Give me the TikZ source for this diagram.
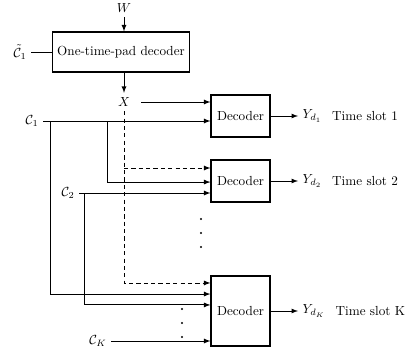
\documentclass[tikz,border=0pt]{standalone}
\usepackage{amsmath}
\usetikzlibrary{arrows,positioning}

\begin{document}
\begin{tikzpicture}[x=0.76pt,y=-0.76pt]
                \useasboundingbox (0,0) rectangle (411,351);
                \tikzset{blk/.style={draw, rectangle, line width=0.9pt, align=center},
                         wire/.style={line width=0.7pt},
                         dwire/.style={line width=0.7pt, dash pattern=on 3.2pt off 2.4pt}}

                \node[blk, minimum width=98.8pt, minimum height=30.4pt] (otp) at (121,52) {One-time-pad decoder};
                \node (W) at (124,8) {$W$};
                \node (Ct) at (20,52) {$\tilde{\mathcal{C}}_1$};
                \node (X) at (124,102) {$X$};

                \node[blk, minimum width=44.8pt, minimum height=31.9pt] (dec1) at (240.5,116) {Decoder};
                \node[blk, minimum width=44.8pt, minimum height=31.9pt] (dec2) at (240.5,181) {Decoder};
                \node[blk, minimum width=44.8pt, minimum height=53.2pt] (decK) at (240.5,311) {Decoder};

                \node (C1) at (32,121) {$\mathcal{C}_1$};
                \node (C2) at (68,193) {$\mathcal{C}_2$};
                \node (CK) at (98,341) {$\mathcal{C}_K$};

                \node[anchor=west] (Y1) at (298,116) {$Y_{d_1}$};
                \node[anchor=west] (Y2) at (298,181) {$Y_{d_2}$};
                \node[anchor=west] (YK) at (298,311) {$Y_{d_K}$};
                \node[right=1pt of Y1] (s1) {Time slot 1};
                \node[right=1pt of Y2] (s2) {Time slot 2};
                \node[right=1pt of YK] (sK) {Time slot K};

                \coordinate (t1) at (50,121);
                \coordinate (t2) at (107,121);
                \coordinate (t3) at (84,193);
                \coordinate (xd) at (124,168);

                \draw[wire, -latex] (W) -- (W |- otp.north);
                \draw[wire] (Ct) -- (otp);
                \draw[wire, -latex] (otp.south -| X) -- (X);

                % decoder inputs
                \draw[wire, -latex, shorten <=5pt] (X) -- (X -| dec1.west);
                \draw[wire, -latex] (C1) -- (C1 -| dec1.west);
                \draw[wire, -latex] (t2) |- ([yshift=-0.8pt]dec2.west);
                \draw[wire, -latex] (C2) -- (C2 -| dec2.west);
                \draw[dwire, -latex] (xd) -- (xd -| dec2.west);
                \draw[dwire, -latex] (X) |- ([yshift=21.3pt]decK.west);
                \draw[wire, -latex] (t1) |- ([yshift=12.9pt]decK.west);
                \draw[wire, -latex] (t3) |- ([yshift=4.6pt]decK.west);
                \draw[wire, -latex] (CK) -- (CK -| decK.west);

                % decoder outputs
                \draw[wire, -latex] (dec1) -- (Y1);
                \draw[wire, -latex] (dec2) -- (Y2);
                \draw[wire, -latex] (decK) -- (YK);

                \foreach \y in {219,233,247} \fill (201,\y) circle (0.9pt);
                \foreach \y in {309,323,337} \fill (182,\y) circle (0.9pt);
            \end{tikzpicture}
\end{document}
